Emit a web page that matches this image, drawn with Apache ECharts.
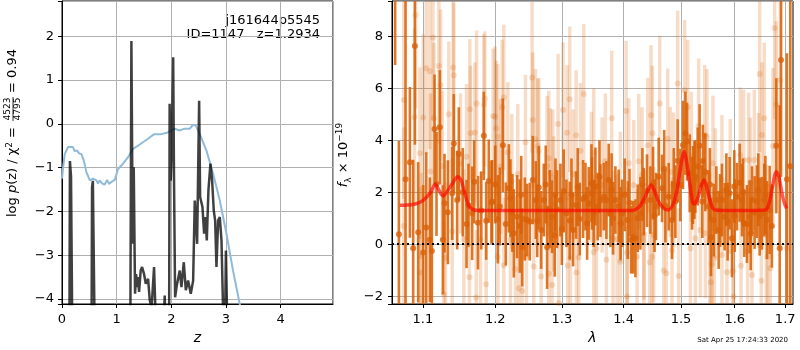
<!DOCTYPE html>
<html>
<head>
<meta charset="utf-8">
<script src="https://cdn.jsdelivr.net/npm/echarts@6/dist/echarts.min.js"></script>
<style>html,body{margin:0;padding:0;background:#fff}#chart{width:800px;height:350px}</style>
</head>
<body>
<div id="chart"></div>
<script>
// left panel: redshift vs log p(z) and chi2
var zBlue = [0, 0.02, 0.05, 0.11, 0.2, 0.23, 0.275, 0.31, 0.355, 0.4, 0.446, 0.51, 0.568, 0.63, 0.66, 0.69, 0.733, 0.78, 0.825, 0.86, 0.9, 0.965, 1.026, 1.118, 1.21, 1.3, 1.39, 1.48, 1.575, 1.68, 1.79, 1.91, 2.06, 2.155, 2.245, 2.34, 2.4, 2.449, 2.52, 2.644, 2.766, 2.888, 3.01, 3.13, 3.253, 3.3];
var chiBlue = [-1.25, -1.0, -0.69, -0.53, -0.53, -0.62, -0.61, -0.67, -0.69, -0.84, -1.1, -1.29, -1.25, -1.29, -1.36, -1.29, -1.36, -1.39, -1.28, -1.37, -1.33, -1.28, -1.03, -0.91, -0.76, -0.57, -0.5, -0.42, -0.34, -0.24, -0.24, -0.21, -0.11, -0.15, -0.11, -0.11, -0.02, -0.04, -0.23, -0.61, -1.14, -1.75, -2.51, -3.35, -4.11, -4.5];

var zGray = [0, 0.135, 0.145, 0.165, 0.18, 0.19, 0.54, 0.55, 0.565, 0.585, 0.6, 1.25, 1.27, 1.295, 1.313, 1.337, 1.356, 1.374, 1.39, 1.411, 1.44, 1.466, 1.502, 1.533, 1.576, 1.606, 1.64, 1.685, 1.71, 1.728, 1.85, 1.88, 1.9, 1.96, 1.97, 1.99, 2.01, 2.035, 2.05, 2.07, 2.1, 2.155, 2.186, 2.229, 2.266, 2.308, 2.357, 2.4, 2.43, 2.449, 2.473, 2.51, 2.528, 2.571, 2.601, 2.626, 2.65, 2.68, 2.717, 2.748, 2.778, 2.803, 2.827, 2.858, 2.888, 2.919, 2.949, 2.98, 3.0, 3.03, 5];
var logpGray = [-5, -5, -0.85, -1.2, -1.22, -5, -5, -1.45, -1.3, -1.27, -5, -5, 1.89, -2.74, -0.99, -3.88, -3.43, -3.73, -3.5, -3.84, -3.35, -3.27, -3.43, -3.65, -3.54, -4.03, -4.2, -3.27, -3.27, -5, -5, -3.92, -5, -5, 0.46, -1.3, -0.5, 1.52, -1.22, -3.96, -3.7, -3.35, -3.73, -3.16, -3.8, -3.58, -3.88, -3.58, -1.75, -1.75, -2.74, 0.53, -1.67, -1.9, -2.51, -2.13, -2.66, -1.52, -0.91, -1.3, -1.98, -2.21, -3.27, -2.21, -2.13, -2.66, -4.3, -5, -2.89, -5, -5];

// right panel: spectrum, dark = this grism, light = other
var darkLam = [1.064, 1.0688, 1.0774, 1.083, 1.0873, 1.0895, 1.0939, 1.1005, 1.1045, 1.1093, 1.112, 1.1156, 1.1182, 1.1227, 1.1268, 1.129, 1.1336, 1.1395, 1.1417, 1.1463, 1.1486, 1.1593, 1.1672, 1.1753, 1.1836, 1.1907, 1.1945,
  1.1955, 1.2037, 1.2066, 1.211, 1.2153, 1.2197, 1.2221, 1.227, 1.2319, 1.2359, 1.2394, 1.2433, 1.2468, 1.2508, 1.2553, 1.2599, 1.2644, 1.268, 1.272, 1.2771, 1.2812, 1.2848, 1.2889, 1.2925, 1.2977, 1.3029, 1.3071, 1.3123, 1.3176, 1.3224, 1.3282, 1.3335, 1.3373, 1.3426, 1.347, 1.3507,
  1.348, 1.3534, 1.3572, 1.3616, 1.367, 1.3714, 1.3752, 1.378, 1.3824, 1.3863, 1.3918, 1.3974, 1.4019, 1.407, 1.4126, 1.416, 1.42, 1.424, 1.4286, 1.4343, 1.44, 1.4458, 1.4504, 1.4556, 1.4603, 1.4662, 1.4721, 1.478, 1.4839, 1.4899, 1.494, 1.4988, 1.5036, 1.5079, 1.5109, 1.5158, 1.52, 1.5243,
  1.5217, 1.526, 1.5303, 1.5339, 1.5389, 1.5444, 1.5506, 1.5549, 1.56, 1.565, 1.5694, 1.5756, 1.5807, 1.5864, 1.5902, 1.5947, 1.5992, 1.6043, 1.6095, 1.614, 1.6185, 1.6237, 1.6289, 1.6335, 1.6387, 1.6433, 1.6486, 1.6532, 1.6578, 1.6632, 1.6685, 1.682, 1.6888, 1.6915, 1.7035, 1.7104,
  1.154, 1.162, 1.17, 1.18, 1.187, 1.2, 1.225, 1.238, 1.262, 1.275, 1.29, 1.3, 1.315, 1.325, 1.34, 1.36, 1.38, 1.395, 1.41, 1.432, 1.453, 1.47, 1.487, 1.54, 1.553, 1.572, 1.584, 1.6, 1.616, 1.631, 1.646, 1.66, 1.673];
var darkFlux = [12.0, 0.38, 2.5, 3.15, -0.15, 7.63, 0.46, -0.32, 0.64, 0.17, -0.26, 4.43, 2.32, 4.5, 0.17, 1.58, 1.23, 1.96, 3.88, 1.7, 3.47, 0.78, 1.19, 0.83, 4.17, 2.43, 1.62,
  1.64, 0.96, 1.45, 3.81, 0.78, 2.15, 1.77, 0.42, 1.06, 0.7, -0.12, 0.97, 0.93, 0.87, 2.47, 1.7, 2.18, 0.55, 1.7, -0.12, 1.36, 1.06, 0.35, 1.35, 1.7, 2.05, 1.19, 0.91, 0.55, 1.51, 0.97, 1.74, 1.83, 1.57, 2.35, 1.19,
  1.96, 2.22, 1.45, 1.68, 1.83, 1.7, 2.47, 1.19, 1.0, 1.7, 1.47, 1.19, 1.9, 0.93, 0.17, 0.27, 0.23, 1.0, 1.19, 1.64, 2.06, 1.7, 2.35, 1.45, 2.6, 2.15, 1.47, 1.83, 0.93, 1.64, 3.21, 2.28, 3.82, 4.27, 3.95, 2.73, 1.96, 2.47,
  2.28, 2.6, 2.99, 3.79, 1.64, 2.77, 1.45, 0.27, 0.93, 1.7, 0.55, 1.7, 1.06, 0.87, 1.96, 0.23, 2.22, 1.83, 2.37, 1.7, 0.81, 0.78, 1.06, 1.7, 1.22, 1.64, 1.06, 1.19, 1.7, 0.93, 1.32, 3.79, -0.15, 7.09, 2.5, 3.0,
  2.0, 1.5, 2.4, 1.3, 0.9, 2.3, 1.2, 1.9, 0.9, 2.3, 1.9, 0.6, 1.9, 2.2, 0.8, 2.6, 2.1, 0.8, 1.6, 2.3, 1.1, 2.9, 2.3, 3.2, 2.3, 1.3, 2.1, 1.1, 2.0, 0.4, 2.1, 1.9, 0.7];
var darkErr = [5.1, 3.6, 7.0, 2.9, 3.4, 3.8, 2.7, 2.6, 2.9, 2.4, 2.3, 2.1, 2.0, 2.2, 2.1, 1.9, 2.0, 1.8, 1.9, 1.9, 1.8, 1.7, 1.8, 1.8, 1.7, 1.6, 1.6,
  1.6, 1.7, 1.5, 1.8, 1.6, 1.7, 1.5, 1.7, 1.6, 1.8, 1.5, 1.6, 1.4, 1.5, 1.7, 1.5, 1.6, 1.5, 1.4, 1.6, 1.5, 1.4, 1.6, 1.5, 1.4, 1.6, 1.3, 1.5, 1.4, 1.3, 1.4, 1.5, 1.3, 1.4, 1.5, 1.3,
  1.4, 1.5, 1.3, 1.4, 1.3, 1.5, 1.4, 1.3, 1.4, 1.3, 1.4, 1.3, 1.4, 1.5, 1.3, 1.4, 1.5, 1.3, 1.4, 1.3, 1.4, 1.3, 1.4, 1.3, 1.5, 1.3, 1.4, 1.3, 1.5, 1.4, 1.6, 1.4, 1.7, 1.6, 1.5, 1.5, 1.4, 1.5,
  1.5, 1.4, 1.5, 1.6, 1.4, 1.5, 1.4, 1.5, 1.4, 1.3, 1.5, 1.4, 1.3, 1.5, 1.4, 1.5, 1.4, 1.3, 1.5, 1.4, 1.3, 1.5, 1.4, 1.3, 1.4, 1.4, 1.5, 1.4, 1.4, 1.5, 1.7, 2.6, 5.5, 4.5, 4.85, 8.0,
  1.7, 1.6, 1.6, 1.5, 1.5, 1.5, 1.5, 1.5, 1.4, 1.5, 1.4, 1.4, 1.4, 1.5, 1.4, 1.4, 1.4, 1.4, 1.3, 1.4, 1.4, 1.5, 1.4, 1.4, 1.4, 1.4, 1.4, 1.4, 1.3, 1.4, 1.4, 1.5, 1.6];

var lightLam = [1.0904, 1.0752, 1.0891, 1.1005, 1.1045, 1.1093, 1.1134, 1.1214, 1.1237, 1.1408, 1.1417, 1.1147, 1.1349, 1.1639, 1.1734, 1.185, 1.1836, 1.1969, 1.171, 1.1648, 1.1593, 1.1509, 1.1259, 1.1102, 1.0961, 1.0978, 1.1304, 1.1281, 1.1634, 1.1729, 1.1869, 1.0961, 1.0752, 1.1395, 1.1789, 1.1555,
  1.2124, 1.21, 1.1998, 1.2013, 1.2037, 1.2543, 1.2553, 1.2594, 1.2629, 1.2644, 1.2443, 1.2182, 1.2075, 1.2329, 1.224, 1.2797, 1.2771, 1.2823, 1.2858, 1.2941, 1.3018, 1.3123, 1.3081, 1.3224, 1.3292, 1.3346, 1.3176, 1.2874, 1.2037, 1.2124, 1.2295, 1.2344, 1.2394, 1.2568, 1.268, 1.2797, 1.2848, 1.3092, 1.3134, 1.3229, 1.3266, 1.2951, 1.2458, 1.2221, 1.3507,
  1.3802, 1.4042, 1.4621, 1.494, 1.5066, 1.5121, 1.4469, 1.4493, 1.3507, 1.3697, 1.4087, 1.4257, 1.4412, 1.4762, 1.4809, 1.4869, 1.3469, 1.3643, 1.4172, 1.4314, 1.3946, 1.3824, 1.3891, 1.355, 1.3714, 1.3946, 1.4059, 1.4229, 1.4343, 1.4446, 1.4487, 1.4691, 1.4738, 1.4839, 1.4958, 1.517, 1.4059, 1.435, 1.4516,
  1.6486, 1.6786, 1.682, 1.6902, 1.6578, 1.6532, 1.6752, 1.5321, 1.5432, 1.5475, 1.5187, 1.5587, 1.5756, 1.6108, 1.6172, 1.627, 1.6381, 1.6466, 1.6302, 1.5915, 1.5631, 1.526, 1.5351, 1.5444, 1.5524, 1.5612, 1.5568, 1.5756, 1.5851, 1.5966, 1.6121, 1.625, 1.6335, 1.6519, 1.6645, 1.6698, 1.5549, 1.5979, 1.6618, 1.7035];
var lightFlux = [8.82, 5.55, 4.9, 4.88, 6.77, 6.66, 7.96, 6.86, 6.13, 6.8, 6.5, 4.85, 5.0, 5.19, 5.42, 5.59, 5.38, 4.93, 4.3, 4.27, 3.37, 3.11, 3.01, 2.8, 3.5, -0.45, -0.52, -1.92, -1.27, -2.05, -1.54, -1.09, 0.7, 0.49, 0.19, 0.19,
  5.65, 5.27, 4.91, 4.46, 4.14, 6.42, 4.78, 4.04, 3.78, 3.59, 3.92, 3.54, 2.99, 2.7, 2.41, 3.31, 3.01, 2.73, 2.58, 4.63, 5.17, 5.58, 4.29, 4.19, 3.6, 5.78, 2.69, 1.55, -0.48, -0.81, -0.96, -1.69, -1.8, -0.86, -1.24, -1.14, -1.57, -0.82, -0.54, -1.09, -0.51, -2.27, -0.48, 0.17, -0.31,
  4.85, 5.13, 5.42, 6.19, 5.93, 5.27, 4.96, 4.27, 3.5, 3.2, 3.12, 3.19, 3.81, 4.06, 2.78, 2.47, 2.6, 2.28, 2.28, 2.67, 1.83, 0.23, 0.19, -0.15, -0.6, -0.67, -0.32, -0.48, 0.14, -0.69, -0.48, -1.01, -1.12, -0.24, -1.22, -0.15, -2.01, 0.36, 0.36,
  6.55, 8.31, 5.38, 6.32, 4.85, 4.2, 3.78, 4.55, 4.2, 4.14, 3.37, 3.12, 2.47, 3.43, 3.24, 3.24, 3.24, 2.45, 2.37, 2.22, 1.96, 0.23, 0.55, 0.42, 0.17, -0.54, -0.77, -0.41, -1.08, -1.03, -0.83, -0.28, -1.18, -1.41, -0.48, -0.92, -1.46, -2.01, 0.36, -0.15];
var lightErr = [3.6, 3.8, 3.4, 3.2, 3.3, 3.0, 3.2, 3.0, 2.9, 3.0, 2.8, 2.9, 2.8, 2.7, 2.8, 2.6, 2.7, 2.6, 2.7, 2.6, 2.8, 2.7, 2.9, 3.0, 3.3, 3.2, 2.9, 2.8, 2.7, 2.6, 2.7, 3.3, 3.8, 2.8, 2.6, 2.7,
  2.8, 2.6, 2.7, 2.6, 2.8, 2.9, 2.6, 2.7, 2.6, 2.8, 2.6, 2.7, 2.6, 2.7, 2.6, 2.6, 2.7, 2.5, 2.6, 2.7, 2.6, 2.8, 2.6, 2.5, 2.6, 2.7, 2.5, 2.6, 2.7, 2.6, 2.8, 2.6, 2.7, 2.6, 2.7, 2.6, 2.5, 2.6, 2.7, 2.5, 2.6, 2.8, 2.6, 2.6, 2.5,
  2.6, 2.7, 2.6, 2.8, 2.7, 2.6, 2.7, 2.6, 2.5, 2.6, 2.5, 2.6, 2.6, 2.7, 2.5, 2.6, 2.5, 2.6, 2.5, 2.6, 2.5, 2.6, 2.5, 2.6, 2.5, 2.6, 2.5, 2.6, 2.5, 2.6, 2.5, 2.6, 2.7, 2.5, 2.6, 2.5, 2.7, 2.5, 2.6,
  3.0, 3.5, 3.2, 3.5, 2.9, 2.8, 3.0, 2.6, 2.7, 2.6, 2.5, 2.6, 2.5, 2.6, 2.7, 2.6, 2.7, 2.6, 2.5, 2.6, 2.5, 2.5, 2.6, 2.5, 2.6, 2.5, 2.6, 2.5, 2.6, 2.7, 2.6, 2.5, 2.6, 2.7, 2.8, 2.8, 2.6, 2.6, 2.7, 3.3];

var modelLam = [1.07, 1.08, 1.09, 1.1, 1.11, 1.1167, 1.122, 1.127, 1.133, 1.14, 1.1472, 1.152, 1.157, 1.162, 1.167, 1.175, 1.25, 1.35, 1.415, 1.425, 1.435, 1.442, 1.447, 1.453, 1.46, 1.468, 1.476, 1.485, 1.492, 1.498, 1.503, 1.506, 1.51, 1.516, 1.521, 1.524, 1.53, 1.536, 1.542, 1.547, 1.553, 1.558, 1.563, 1.6, 1.66, 1.667, 1.674, 1.682, 1.687, 1.693, 1.698, 1.703];
var modelFlux = [1.5, 1.51, 1.55, 1.68, 1.98, 2.31, 2.05, 1.86, 2.05, 2.35, 2.6, 2.45, 1.95, 1.5, 1.35, 1.3, 1.3, 1.3, 1.3, 1.4, 1.75, 2.1, 2.28, 2.05, 1.65, 1.4, 1.32, 1.5, 2.0, 2.8, 3.4, 3.56, 3.2, 2.3, 1.6, 1.55, 1.75, 2.2, 2.47, 2.2, 1.7, 1.4, 1.32, 1.3, 1.32, 1.55, 2.2, 2.79, 2.6, 2.0, 1.6, 1.38];

var lamTicks = [1.1, 1.2, 1.3, 1.4, 1.5, 1.6, 1.7];

var FONT = 'DejaVu Sans';
var dark = 'rgba(217,95,2,0.85)';
var darkDot = '#d9620a';
var light = 'rgba(217,95,2,0.22)';

function pairs(a, b) { return a.map(function (v, i) { return [v, b[i]]; }); }
function triples(a, b, c) { return a.map(function (v, i) { return [v, b[i], c[i]]; }); }
function intLabel(v) {
	if (Math.abs(v - Math.round(v)) > 1e-6) return '';
	return String(Math.round(v)).replace('-', '\u2212');
}
function errorBar(color, width) {
	return function (params, api) {
		var x = api.value(0), y = api.value(1), e = api.value(2);
		var hi = api.coord([x, y + e]);
		var lo = api.coord([x, y - e]);
		return {
			type: 'line',
			shape: { x1: hi[0], y1: hi[1], x2: lo[0], y2: lo[1] },
			style: { stroke: color, lineWidth: width }
		};
	};
}

var axisCommon = {
	axisLine: { show: true, onZero: false, lineStyle: { color: '#000', width: 1 } },
	axisTick: { show: true, length: 4, lineStyle: { color: '#000' } },
	splitLine: { show: true, lineStyle: { color: '#b0b0b0', width: 1 } }
};

var chart = echarts.init(document.getElementById('chart'));
var option = {
	animation: false,
	backgroundColor: '#fff',
	textStyle: { fontFamily: FONT },
	grid: [
		{ left: 62, top: 1, width: 271, height: 303, show: true, borderColor: '#000', borderWidth: 1 },
		{ left: 392, top: 1, width: 401, height: 303, show: true, borderColor: '#000', borderWidth: 1 }
	],
	xAxis: [
		Object.assign({}, axisCommon, {
			gridIndex: 0, type: 'value', min: 0, max: 4.96, interval: 1,
			name: 'z', nameLocation: 'middle', nameGap: 26,
			nameTextStyle: { fontSize: 14, fontStyle: 'italic', color: '#000', fontFamily: FONT },
			axisLabel: { fontSize: 13, color: '#000', margin: 9, showMaxLabel: false, formatter: intLabel }
		}),
		Object.assign({}, axisCommon, {
			gridIndex: 1, type: 'log', logBase: 10, min: 1.06, max: 1.716,
			name: '\u03bb', nameLocation: 'middle', nameGap: 25,
			nameTextStyle: { fontSize: 14, fontStyle: 'italic', color: '#000', fontFamily: FONT },
			axisTick: { show: true, length: 4, lineStyle: { color: '#000' }, customValues: lamTicks },
			minorTick: { show: false },
			minorSplitLine: { show: false },
			axisLabel: { fontSize: 13, color: '#000', margin: 9, customValues: lamTicks, formatter: function (v) { return v.toFixed(1); } }
		})
	],
	yAxis: [
		Object.assign({}, axisCommon, {
			gridIndex: 0, type: 'value', min: -4.114, max: 2.806,
			axisLabel: { fontSize: 13, color: '#000', margin: 8, formatter: intLabel }
		}),
		Object.assign({}, axisCommon, {
			gridIndex: 1, type: 'value', min: -2.3, max: 9.36,
			axisLabel: { fontSize: 13, color: '#000', margin: 9, formatter: intLabel }
		})
	],
	series: [
		{
			type: 'line', xAxisIndex: 0, yAxisIndex: 0, data: pairs(zBlue, chiBlue),
			showSymbol: false, clip: true, lineStyle: { color: '#8fbbd9', width: 2 }, z: 2
		},
		{
			type: 'line', xAxisIndex: 0, yAxisIndex: 0, data: pairs(zGray, logpGray),
			showSymbol: false, clip: true, lineStyle: { color: 'rgba(0,0,0,0.75)', width: 2.5 }, z: 3
		},
		{
			type: 'custom', xAxisIndex: 1, yAxisIndex: 1, clip: true,
			data: triples(lightLam, lightFlux, lightErr), renderItem: errorBar(light, 3.5), z: 2
		},
		{
			type: 'scatter', xAxisIndex: 1, yAxisIndex: 1, clip: true,
			data: pairs(lightLam, lightFlux), symbolSize: 6,
			itemStyle: { color: 'rgba(217,95,2,0.25)' }, z: 2
		},
		{
			type: 'custom', xAxisIndex: 1, yAxisIndex: 1, clip: true,
			data: triples(darkLam, darkFlux, darkErr), renderItem: errorBar(dark, 2.6), z: 3
		},
		{
			type: 'scatter', xAxisIndex: 1, yAxisIndex: 1, clip: true,
			data: pairs(darkLam, darkFlux), symbolSize: 6,
			itemStyle: { color: darkDot }, z: 3
		},
		{
			type: 'line', xAxisIndex: 1, yAxisIndex: 1, data: pairs(modelLam, modelFlux),
			showSymbol: false, smooth: 0.3, clip: true,
			lineStyle: { color: 'rgba(255,0,0,0.65)', width: 3.5 }, z: 4,
			markLine: {
				silent: true, symbol: 'none', label: { show: false },
				lineStyle: { color: '#000', type: [2, 3], width: 2 },
				data: [{ yAxis: 0 }]
			}
		}
	],
	graphic: [
		{ type: 'text', x: 320, y: 21, style: { text: 'j161644p5545', fontSize: 13, fontFamily: FONT, fill: '#000', align: 'right', verticalAlign: 'middle' } },
		{ type: 'text', x: 320, y: 35, style: { text: 'ID=1147   z=1.2934', fontSize: 13, fontFamily: FONT, fill: '#000', align: 'right', verticalAlign: 'middle' } },
		{ type: 'text', x: 788, y: 340, style: { text: 'Sat Apr 25 17:24:33 2020', fontSize: 7, fontFamily: FONT, fill: '#000', align: 'right', verticalAlign: 'middle' } },
		{
			type: 'group', x: 13, y: 123, rotation: Math.PI / 2,
			children: [
				{ type: 'text', x: -4, y: 0, style: {
					text: 'log {i|p}(z) / \u03c7{s|2} =', fontSize: 13, fontFamily: FONT, fill: '#000', align: 'right', verticalAlign: 'middle',
					rich: { i: { fontStyle: 'italic', fontSize: 13, fontFamily: FONT }, s: { fontSize: 9, verticalAlign: 'top', lineHeight: 16, fontFamily: FONT } }
				} },
				{ type: 'text', x: 14, y: -5, style: { text: '4523', fontSize: 9, fontFamily: FONT, fill: '#000', align: 'center', verticalAlign: 'middle' } },
				{ type: 'line', shape: { x1: 2, y1: 0, x2: 26, y2: 0 }, style: { stroke: '#000', lineWidth: 0.8 } },
				{ type: 'text', x: 14, y: 5, style: { text: '4795', fontSize: 9, fontFamily: FONT, fill: '#000', align: 'center', verticalAlign: 'middle' } },
				{ type: 'text', x: 30, y: 0, style: { text: '= 0.94', fontSize: 13, fontFamily: FONT, fill: '#000', align: 'left', verticalAlign: 'middle' } }
			]
		},
		{
			type: 'text', x: 344, y: 155, rotation: Math.PI / 2,
			style: {
				text: '{i|f}{sub|\u03bb} \u00d7 10{sup|\u221219}', fontSize: 13, fontFamily: FONT, fill: '#000', align: 'center', verticalAlign: 'middle',
				rich: {
					i: { fontStyle: 'italic', fontSize: 13, fontFamily: FONT, lineHeight: 18 },
					sub: { fontSize: 9, verticalAlign: 'bottom', lineHeight: 18, fontFamily: FONT },
					sup: { fontSize: 9, verticalAlign: 'top', lineHeight: 18, fontFamily: FONT }
				}
			}
		}
	]
};
chart.setOption(option);
</script>
</body>
</html>
